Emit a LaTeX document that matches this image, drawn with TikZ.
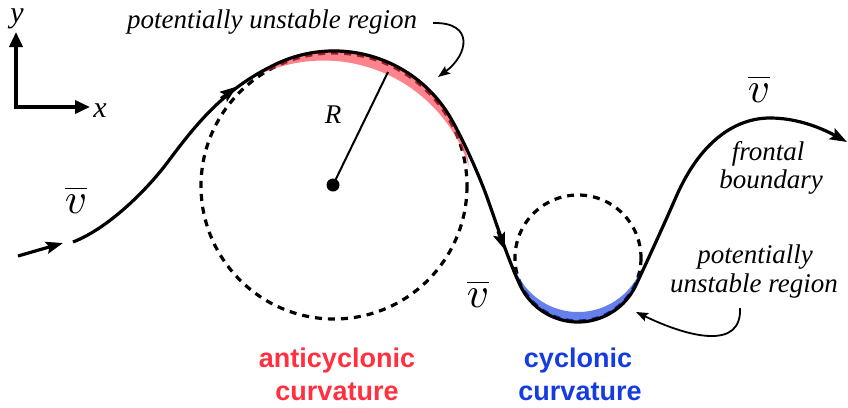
\documentclass[tikz,border=0pt]{standalone}
\usepackage{fontspec}
\setmainfont{Liberation Serif}
\newfontfamily\tmfont{Liberation Serif}
\newfontfamily\hvfont{Liberation Sans}
\usepackage{graphicx}
\usetikzlibrary{arrows.meta}
\definecolor{acred}{RGB}{255,48,64}
\definecolor{cblue}{RGB}{20,60,225}
\begin{document}
\begin{tikzpicture}[x=1pt,y=-1pt,
  curve/.style={line width=3.2pt},
  tipA/.style={-{Stealth[length=17pt,width=12pt,inset=3pt]}},
  dashcirc/.style={line width=3.2pt, dash pattern=on 7pt off 6pt},
  ann/.style={line width=1.8pt, -{Stealth[length=12pt,width=9pt,inset=2pt]}},
  axis/.style={line width=3.6pt, {Triangle[length=15pt,width=13pt]}-{Triangle[length=15pt,width=13pt]}},
  it/.style={font=\tmfont\itshape\fontsize{27}{30}\selectfont, inner sep=0pt, anchor=base},
  axl/.style={font=\tmfont\itshape\fontsize{30}{32}\selectfont, inner sep=0pt, anchor=base},
  bf/.style={font=\hvfont\bfseries\fontsize{27}{30}\selectfont, inner sep=0pt, anchor=base},
  vb/.style={inner sep=0pt, anchor=base},
  redfill/.style={fill=acred, fill opacity=0.6},
  bluefill/.style={fill=cblue, fill opacity=0.65}]
\useasboundingbox (0,0) rectangle (848,407);

% axes
\coordinate (o) at (16,107);
\coordinate (ytip) at (16,32);
\coordinate (xtip) at (90,107);
\draw[axis] (ytip) -- (o) -- (xtip);
\node[axl] (ylab) at (17,22) {y};
\node[axl] (xlab) at (100,117) {x};

% circles
\coordinate (C1) at (334,186);
\coordinate (C2) at (578,258);
\draw[dashcirc] (C1) circle[radius=133];
\draw[dashcirc] (C2) circle[radius=63];

% shaded regions
\fill[redfill] (246.26,81.43) arc[start angle=230,end angle=352,radius=136.5]
  arc[start angle=342.3,end angle=239.7,radius=152.98] -- cycle;
\fill[bluefill] (514.97,269.11) arc[start angle=170,end angle=10,radius=64]
  arc[start angle=21.5,end angle=158.5,radius=67.7] -- cycle;

% main frontal curve
\coordinate (P0) at (73,242);
\coordinate (Pend) at (847,142);
\draw[curve, tipA] (P0) .. controls (110.2,227.6) and (149,187) .. (167,163)
  .. controls (194,127) and (222.6,89.0) .. (276.95,63.65)
  arc[start angle=245,end angle=330,radius=135]
  .. controls (463.4,140.2) and (479.75,176.4) .. (488,200)
  .. controls (499.6,233) and (509.4,262.4) .. (520.0,285.05)
  arc[start angle=155,end angle=25,radius=64]
  .. controls (648.7,257.8) and (664,224.6) .. (676,197)
  .. controls (700,141.8) and (735,118) .. (770,118)
  .. controls (800,118) and (825,130) .. (Pend);
% mid-curve arrowheads
\coordinate (a1s) at (221,98.5);
\coordinate (a1e) at (237,86.5);
\draw[curve, tipA] (a1s) -- (a1e);
\coordinate (a2s) at (498,231.2);
\coordinate (a2e) at (505,250);
\draw[curve, tipA] (a2s) -- (a2e);
% incoming arrow
\coordinate (inS) at (18,256);
\coordinate (inE) at (63,243);
\draw[curve, tipA] (inS) -- (inE);

% centre dot and radius
\node[circle, fill=black, inner sep=0pt, minimum size=13pt] (dot) at (333,185) {};
\coordinate (Rend) at (388,72);
\draw[line width=2pt] (dot.center) -- (Rend);
\node[it] (R) at (333,123) {R};

% v-bar labels
\node[vb] (v1) at (76,213) {\scalebox{4.3}{$\overline{v}$}};
\node[vb] (v2) at (478,307) {\scalebox{4.3}{$\overline{v}$}};
\node[vb] (v3) at (759,102) {\scalebox{4.3}{$\overline{v}$}};

% annotations
\node[it] (t1) at (272,28) {potentially unstable region};
\coordinate (an1s) at (433,23);
\coordinate (an1e) at (438,77);
\draw[ann] (an1s) .. controls (475,22) and (468,55) .. (an1e);
\node[it] (t2) at (768,160) {frontal};
\node[it] (t3) at (771,188) {boundary};
\node[it] (t4) at (755,263) {potentially};
\node[it] (t5) at (754,292) {unstable region};
\coordinate (an2s) at (740,308);
\coordinate (an2e) at (636,312);
\draw[ann] (an2s) .. controls (742,350) and (690,338) .. (an2e);

% curvature labels
\node[bf, text=acred] (ac1) at (337,367) {anticyclonic};
\node[bf, text=acred] (ac2) at (337,400) {curvature};
\node[bf, text=cblue] (cy1) at (578,367) {cyclonic};
\node[bf, text=cblue] (cy2) at (580,400) {curvature};
\end{tikzpicture}
\end{document}
